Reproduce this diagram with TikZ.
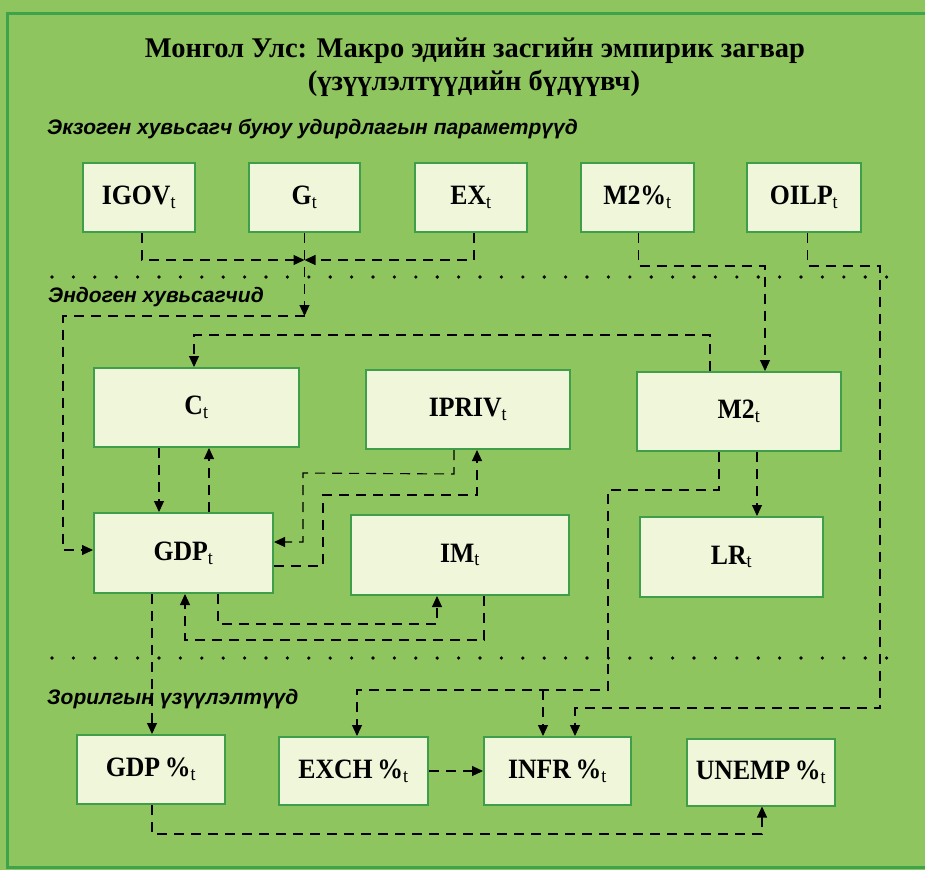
\documentclass[tikz,border=0pt]{standalone}
\usepackage{fontspec}
\setmainfont{Liberation Serif}
\newfontfamily\headfont{Liberation Sans}
\newfontfamily\boxfont{Liberation Serif}[FakeStretch=0.92]
\usetikzlibrary{arrows.meta}
\definecolor{bgc}{HTML}{8FC55E}
\definecolor{boxfill}{HTML}{EFF6DA}
\definecolor{boxline}{HTML}{3E9E4A}
\definecolor{framec}{HTML}{3FA34C}
\newcommand{\sbt}{\textsubscript{\mdseries t}}
\begin{document}
\begin{tikzpicture}[x=1pt,y=-1pt,
  box/.style={draw=boxline, line width=2pt, fill=boxfill, inner sep=0pt,
    font=\boxfont\fontsize{28}{30}\selectfont\bfseries},
  conn/.style={draw=black, line width=1.1pt, dash pattern=on 10pt off 7pt},
  arr/.style={-{Triangle[length=11pt,width=10pt]}},
  dotline/.style={line width=3.6pt, line cap=round, dash pattern=on 0pt off 21.4pt},
  heading/.style={anchor=base west, inner sep=0pt,
    font=\headfont\fontsize{21}{24}\selectfont\bfseries\itshape},
  titletext/.style={anchor=base, inner sep=0pt,
    font=\fontsize{28.5}{30}\selectfont\bfseries},
]
\fill[bgc] (0,0) rectangle (925,870);
\useasboundingbox (0,0) rectangle (925,870);
\draw[framec, line width=3pt] (935,13) -- (7,13) -- (7,867) -- (935,867);

% titles
\node[titletext] (t1) at (475,57) {Монгол Улс: Макро эдийн засгийн эмпирик загвар};
\node[titletext] (t2) at (474,90) {(үзүүлэлтүүдийн бүдүүвч)};

% headings
\node[heading] (hexo) at (47,134) {Экзоген хувьсагч буюу удирдлагын параметрүүд};
\node[heading] (hendo) at (48,302) {Эндоген хувьсагчид};
\node[heading] (hgoal) at (47,704) {Зорилгын үзүүлэлтүүд};

% dotted separators
\draw[dotline] (52,277) -- (887,277);
\draw[dotline] (52,658) -- (887,658);

% top row
\node[box, minimum width=112pt, minimum height=69pt] (igov) at (139,197.5) {IGOV\sbt};
\node[box, minimum width=111pt, minimum height=69pt] (g) at (304.5,197.5) {G\sbt};
\node[box, minimum width=112pt, minimum height=69pt] (ex) at (471,197.5) {EX\sbt};
\node[box, minimum width=113pt, minimum height=69pt] (m2p) at (637.5,197.5) {M2\%\sbt};
\node[box, minimum width=114pt, minimum height=69pt] (oilp) at (804,197.5) {OILP\sbt};

% middle
\node[box, minimum width=205pt, minimum height=79pt] (c) at (196.5,407.5) {C\sbt};
\node[box, minimum width=204pt, minimum height=79pt] (ipriv) at (468,409.5) {IPRIV\sbt};
\node[box, minimum width=204pt, minimum height=79pt] (m2) at (739,411.5) {M2\sbt};
\node[box, minimum width=179pt, minimum height=80pt] (gdp) at (183.5,553) {GDP\sbt};
\node[box, minimum width=218pt, minimum height=80pt] (im) at (460,555) {IM\sbt};
\node[box, minimum width=183pt, minimum height=80pt] (lr) at (731.5,557) {LR\sbt};

% bottom
\node[box, minimum width=148pt, minimum height=69pt] (gdpp) at (151,769.5) {GDP\,\%\sbt};
\node[box, minimum width=149pt, minimum height=68pt] (exch) at (353.5,771) {EXCH\,\%\sbt};
\node[box, minimum width=147pt, minimum height=68pt] (infr) at (557.5,771) {INFR\,\%\sbt};
\node[box, minimum width=148pt, minimum height=67pt] (unemp) at (761,772) {UNEMP\,\%\sbt};

% connectors: exogenous
\coordinate (jn) at (304.5,260);
\coordinate (gd) at (304.5,316);
\coordinate (br) at (543,690);
\draw[conn,arr] ([xshift=3pt]igov.south) |- (jn);
\draw[conn,arr] ([xshift=3pt]ex.south) |- (jn);
\draw[conn,arr] (g.south) -- (gd);
\draw[conn,arr] (gd) -- (63,316) |- ([yshift=3pt]gdp.west);
\draw[conn,arr] ([xshift=1pt]m2p.south) -- ++(0,33) -| ([xshift=26pt]m2.north);
\draw[conn,arr] ([xshift=3.5pt]oilp.south) -- ++(0,33) -| (880,708) -| ([xshift=17.5pt]infr.north);

% endogenous
\draw[conn,arr] ([xshift=-29pt]m2.north) -- ++(0,-36) -| ([xshift=-2.5pt]c.north);
\draw[conn,arr] ([xshift=-37.5pt]c.south) -- ([xshift=-24.5pt]gdp.north);
\draw[conn,arr] ([xshift=25.5pt]gdp.north) -- ([xshift=12.5pt]c.south);
\draw[conn,arr] ([xshift=-14pt]ipriv.south) -- ++(0,24) -- (303,473) |- ([yshift=11pt]gdp.east);
\draw[conn,arr] ([yshift=-13pt]gdp.east) -- (323,566) -- (323,495) -| ([xshift=9pt]ipriv.south);
\draw[conn,arr] ([xshift=34.5pt]gdp.south) -- ++(0,30) -| ([xshift=-23pt]im.south);
\draw[conn,arr] ([xshift=24pt]im.south) -- ++(0,44) -| ([xshift=1.5pt]gdp.south);
\draw[conn,arr] ([xshift=18pt]m2.south) -- ([xshift=25.5pt]lr.north);

% to targets
\draw[conn,arr] ([xshift=-31.5pt]gdp.south) -- ([xshift=1pt]gdpp.north);
\draw[conn,arr] ([xshift=-20pt]m2.south) -- ++(0,38) -| (608,690) -| ([xshift=3.5pt]exch.north);
\draw[conn,arr] (br) -- ([xshift=-14.5pt]infr.north);
\draw[conn,arr] (exch.east) -- (infr.west);
\draw[conn,arr] ([xshift=1pt]gdpp.south) -- ++(0,29) -| ([xshift=1pt]unemp.south);
\end{tikzpicture}
\end{document}
